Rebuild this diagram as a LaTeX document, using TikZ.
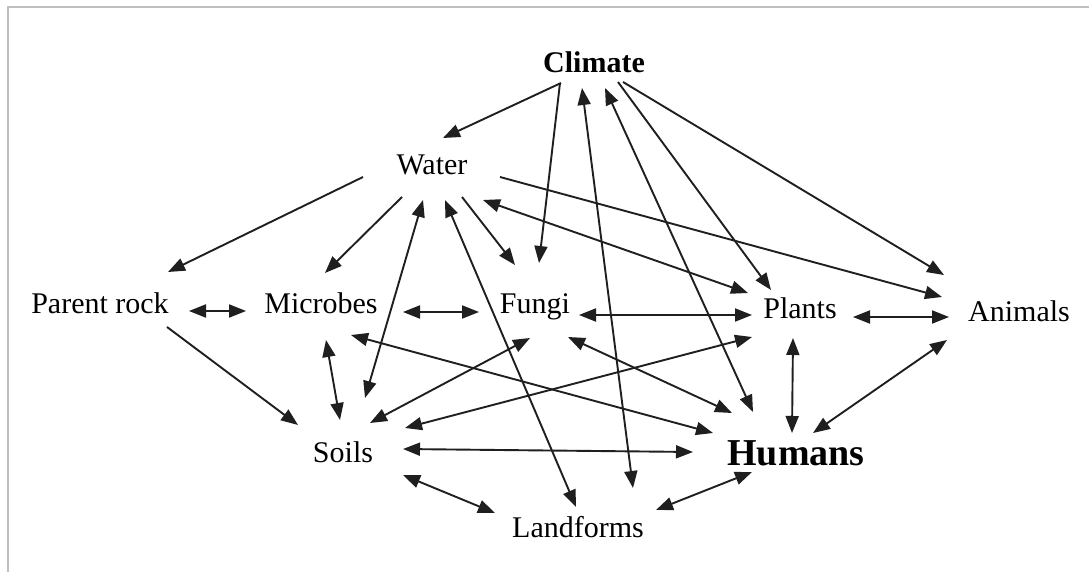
\documentclass[tikz,border=0pt]{standalone}
\usepackage{fontspec}
\setmainfont{Liberation Serif}
\usetikzlibrary{arrows.meta}
\begin{document}
\begin{tikzpicture}[x=1pt,y=-1pt,
  lbl/.style={inner sep=0pt,anchor=base,font=\fontsize{30}{36}\selectfont},
  bigbold/.style={inner sep=0pt,anchor=base,font=\fontsize{38}{44}\selectfont\bfseries},
  tip/.tip={Triangle[length=17pt,width=13pt]},
  link/.style={line width=1.9pt,draw=black!88,fill=black!88,arrows={-tip}},
  both/.style={link,arrows={tip-tip}},
  frame/.style={draw=black!25,line width=2.5pt}]
\useasboundingbox (0,0) rectangle (1089,572);
\fill[white] (0,0) rectangle (1089,572);
\draw[frame] (8,572) -- (8,7) -- (1089,7);

% factors
\node[lbl,font=\fontsize{30}{36}\selectfont\bfseries] (cli) at (594,73) {Climate};
\node[lbl] (wat) at (432,175) {Water};
\node[lbl] (par) at (100,313) {Parent rock};
\node[lbl] (mic) at (321,313) {Microbes};
\node[lbl] (fun) at (535,313) {Fungi};
\node[lbl] (pla) at (800,318) {Plants};
\node[lbl] (ani) at (1019,321) {Animals};
\node[lbl] (soi) at (343,462) {Soils};
\node[bigbold] (hum) at (796,465) {Humans};
\node[lbl] (lan) at (578,537) {Landforms};

% influences of climate
\draw[link] ([shift={(-33,10)}]cli.base) -- ([shift={(11,-37)}]wat.base);
\draw[link] ([shift={(-34,10)}]cli.base) -- ([shift={(4,-50)}]fun.base);
\draw[both] ([shift={(-12,15)}]cli.base) -- ([shift={(55,-49)}]lan.base);
\draw[both] ([shift={(11,15)}]cli.base) -- ([shift={(-43,-53)}]hum.base);
\draw[link] ([shift={(24,9)}]cli.base) -- ([shift={(-29,-28)}]pla.base);
\draw[link] ([shift={(29,9)}]cli.base) -- ([shift={(-75,-46)}]ani.base);

% influences of water
\draw[link] ([shift={(-69,2)}]wat.base) -- ([shift={(68,-41)}]par.base);
\draw[link] ([shift={(-30,22)}]wat.base) -- ([shift={(4,-40)}]mic.base);
\draw[both] ([shift={(-9,25)}]wat.base) -- ([shift={(22,-64)}]soi.base);
\draw[both] ([shift={(13,25)}]wat.base) -- ([shift={(-2,-30)}]lan.base);
\draw[link] ([shift={(30,22)}]wat.base) -- ([shift={(-20,-48)}]fun.base);
\draw[both] ([shift={(51,25)}]wat.base) -- ([shift={(-52,-25)}]pla.base);
\draw[link] ([shift={(68,2)}]wat.base) -- ([shift={(-77,-24)}]ani.base);

% middle row
\draw[both] ([shift={(89,-2)}]par.base) -- ([shift={(-75,-2)}]mic.base);
\draw[link] ([shift={(67,14)}]par.base) -- ([shift={(-45,-37)}]soi.base);
\draw[both] ([shift={(82,-1)}]mic.base) -- ([shift={(-56,-1)}]fun.base);
\draw[both] ([shift={(5,27)}]mic.base) -- ([shift={(-3,-42)}]soi.base);
\draw[both] ([shift={(30,22)}]mic.base) -- ([shift={(-83,-32)}]hum.base);
\draw[both] ([shift={(44,2)}]fun.base) -- ([shift={(-48,-3)}]pla.base);
\draw[both] ([shift={(-5,25)}]fun.base) -- ([shift={(27,-39)}]soi.base);
\draw[both] ([shift={(33,24)}]fun.base) -- ([shift={(-64,-52)}]hum.base);
\draw[both] ([shift={(53,-1)}]pla.base) -- ([shift={(-70,-4)}]ani.base);
\draw[both] ([shift={(-7,20)}]pla.base) -- ([shift={(-4,-32)}]hum.base);
\draw[both] ([shift={(-48,19)}]pla.base) -- ([shift={(62,-34)}]soi.base);
\draw[both] ([shift={(-72,19)}]ani.base) -- ([shift={(17,-32)}]hum.base);

% bottom row
\draw[both] ([shift={(60,-13)}]soi.base) -- ([shift={(-103,-13)}]hum.base);
\draw[both] ([shift={(60,13)}]soi.base) -- ([shift={(-83,-24)}]lan.base);
\draw[both] ([shift={(78,-27)}]lan.base) -- ([shift={(-44,7)}]hum.base);
\end{tikzpicture}
\end{document}
